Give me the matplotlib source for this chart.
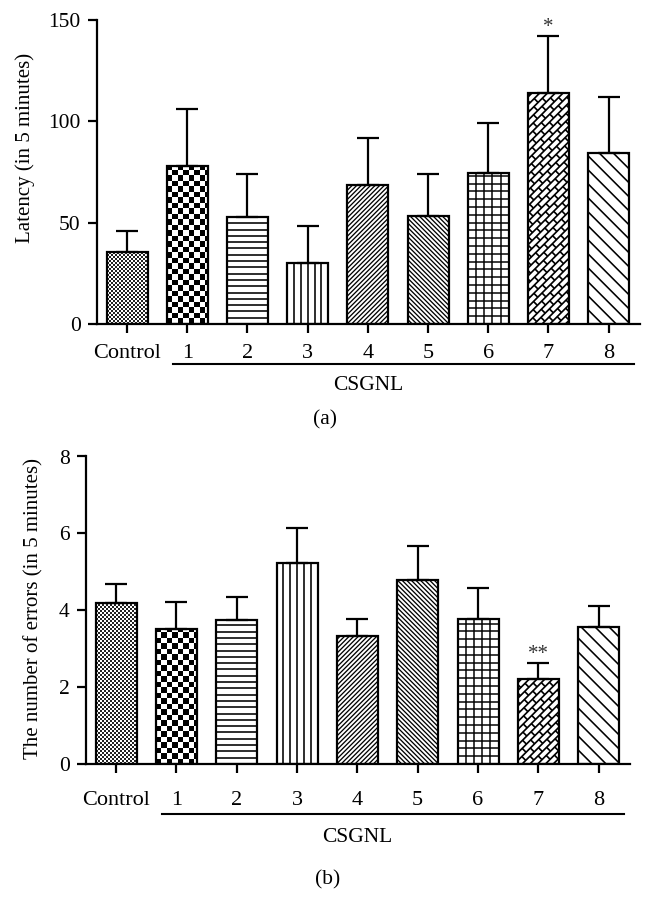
import numpy as np
import matplotlib
matplotlib.use("Agg")
import matplotlib.pyplot as plt
from matplotlib.collections import LineCollection, PolyCollection
from matplotlib.transforms import IdentityTransform, blended_transform_factory

plt.rcParams['font.family'] = ['Liberation Serif', 'DejaVu Serif']

# ---------------- data ----------------
categories = ['Control', '1', '2', '3', '4', '5', '6', '7', '8']
group_label = 'CSGNL'
latency_mean = [35.7, 77.9, 52.9, 30.3, 68.6, 53.3, 74.3, 114.1, 84.2]
latency_err = [10.2, 28.0, 20.9, 18.2, 23.3, 20.5, 24.9, 28.0, 27.8]
errors_mean = [4.18, 3.50, 3.75, 5.24, 3.33, 4.79, 3.76, 2.20, 3.56]
errors_err = [0.49, 0.72, 0.59, 0.91, 0.44, 0.87, 0.81, 0.43, 0.55]
latency_ticks = [0, 50, 100, 150]
errors_ticks = [0, 2, 4, 6, 8]
latency_sig = {7: '*'}
errors_sig = {7: '**'}
patterns = ['fine_checker', 'checker', 'hlines', 'vlines', 'fdiag', 'bdiag',
            'grid', 'brick', 'bdiag_sparse']

W, H = 654, 905
DPI = 100
fig = plt.figure(figsize=(W / DPI, H / DPI), dpi=DPI)


def px_axes(left, right, top, bottom):
    return fig.add_axes([left / W, (H - bottom) / H, (right - left) / W, (bottom - top) / H])


PT = 72.0 / DPI  # points per pixel


def add_lines(ax, segs, lw, clip):
    lc = LineCollection(segs, colors='black', linewidths=lw * PT,
                        transform=IdentityTransform(), zorder=2, capstyle='butt')
    ax.add_collection(lc, autolim=False)
    lc.set_clip_path(clip)


def add_pattern(ax, bar, kind):
    (x0, y0) = ax.transData.transform((bar.get_x(), bar.get_y()))
    (x1, y1) = ax.transData.transform((bar.get_x() + bar.get_width(),
                                       bar.get_y() + bar.get_height()))
    segs = []
    if kind in ('fine_checker', 'checker'):
        c = 2.0 if kind == 'fine_checker' else 5.5
        polys = []
        nx = int((x1 - x0) / c) + 2
        ny = int((y1 - y0) / c) + 2
        for i in range(nx):
            for j in range(ny):
                if (i + j) % 2 == 0:
                    xa = x0 + i * c
                    ya = y0 + j * c
                    polys.append([(xa, ya), (xa + c, ya), (xa + c, ya + c), (xa, ya + c)])
        pc = PolyCollection(polys, facecolors='black' if kind == 'checker' else '#222222',
                            edgecolors='none',
                            transform=IdentityTransform(), zorder=2,
                            antialiased=(kind == 'checker'))
        ax.add_collection(pc, autolim=False)
        pc.set_clip_path(bar)
        return
    if kind == 'hlines':
        s = 6.3
        y = y0 + s
        while y < y1:
            segs.append([(x0, y), (x1, y)])
            y += s
        add_lines(ax, segs, 1.6, bar)
    elif kind == 'vlines':
        s = (x1 - x0) / 6.0
        for k in range(1, 6):
            segs.append([(x0 + k * s, y0), (x0 + k * s, y1)])
        add_lines(ax, segs, 1.6, bar)
    elif kind == 'grid':
        s = (x1 - x0) / 5.0
        for k in range(1, 5):
            segs.append([(x0 + k * s, y0), (x0 + k * s, y1)])
        sy = 7.8
        y = y0 + sy
        while y < y1:
            segs.append([(x0, y), (x1, y)])
            y += sy
        add_lines(ax, segs, 1.5, bar)
    elif kind in ('fdiag', 'bdiag', 'bdiag_sparse'):
        s = 14.0 if kind == 'bdiag_sparse' else 4.6
        lw = 1.6 if kind == 'bdiag_sparse' else 1.3
        if kind == 'fdiag':
            c = (y0 - x1)
            while c < (y1 - x0):
                segs.append([(x0 - 5, x0 - 5 + c), (x1 + 5, x1 + 5 + c)])
                c += s
        else:
            c = x0 + y0
            while c < x1 + y1:
                segs.append([(x0 - 5, c - x0 + 5), (x1 + 5, c - x1 - 5)])
                c += s
        add_lines(ax, segs, lw, bar)
    elif kind == 'brick':
        r2 = np.sqrt(2.0)
        d = 5.5
        L = 12.0
        umin, umax = (x0 + y0) / r2 - L, (x1 + y1) / r2 + L
        vmin, vmax = (y0 - x1) / r2 - d, (y1 - x0) / r2 + d

        def toxy(u, v):
            return ((u - v) / r2, (u + v) / r2)
        kmin, kmax = int(np.floor(vmin / d)), int(np.ceil(vmax / d))
        for k in range(kmin, kmax + 1):
            v = k * d
            segs.append([toxy(umin, v), toxy(umax, v)])
            off = (k % 2) * L / 2.0
            u = np.floor(umin / L) * L + off
            while u < umax:
                segs.append([toxy(u, v), toxy(u, v + d)])
                u += L
        add_lines(ax, segs, 1.7, bar)


def draw_panel(ax, means, errs, ticks, ylim, sig, ylabel, ylabel_xy, tick_pad,
               line_y, grp_y, panel_label, panel_xy):
    x = np.arange(len(categories))
    ax.set_xlim(-0.5, 8.52)
    ax.set_ylim(*ylim)
    bars = ax.bar(x, means, width=0.68, color='white', edgecolor='none', zorder=1)
    for b, kind in zip(bars, patterns):
        add_pattern(ax, b, kind)
    ax.bar(x, means, width=0.68, fill=False, edgecolor='black',
           linewidth=1.6, zorder=3)
    ax.errorbar(x, means, yerr=[np.zeros(len(errs)), errs], fmt='none',
                ecolor='black', elinewidth=1.6, capsize=8, capthick=1.6, zorder=4)
    for i, s in sig.items():
        ax.annotate(s, (x[i], means[i] + errs[i]), xytext=(0, 3), textcoords='offset points',
                    ha='center', va='baseline', fontsize=15, color='#333333',
                    annotation_clip=False)
    for sp in ('top', 'right'):
        ax.spines[sp].set_visible(False)
    for sp in ('left', 'bottom'):
        ax.spines[sp].set_linewidth(1.6)
    ax.set_xticks(x)
    ax.set_xticklabels(categories)
    ax.set_yticks(ticks)
    ax.tick_params(axis='both', direction='out', length=6.7, width=1.6, colors='black')
    ax.tick_params(axis='x', pad=tick_pad, labelsize=16)
    ax.tick_params(axis='y', pad=5, labelsize=15.5)
    # group line and label
    tr = blended_transform_factory(ax.transData, fig.transFigure)
    ly = (H - line_y) / H
    ax.plot([0.76, 8.42], [ly, ly], color='black', lw=1.5, transform=tr, clip_on=False)
    ax.text(4, (H - grp_y) / H, group_label, transform=tr, ha='center', va='center',
            fontsize=15.5)
    fig.text(ylabel_xy[0] / W, (H - ylabel_xy[1]) / H, ylabel, rotation=90,
             ha='center', va='center', fontsize=15)
    fig.text(panel_xy[0] / W, (H - panel_xy[1]) / H, panel_label,
             ha='center', va='center', fontsize=15.5)


ax1 = px_axes(97, 640, 20, 324)
draw_panel(ax1, latency_mean, latency_err, latency_ticks, (0, 150), latency_sig,
           'Latency (in 5 minutes)', (25, 148), 7.5, 363.5, 385, '(a)', (325, 420))

ax2 = px_axes(86, 630, 456.5, 764)
draw_panel(ax2, errors_mean, errors_err, errors_ticks, (0, 8), errors_sig,
           'The number of errors (in 5 minutes)', (34, 608), 12.5, 814, 837, '(b)', (328, 880))

fig.savefig('out.png', dpi=DPI)
